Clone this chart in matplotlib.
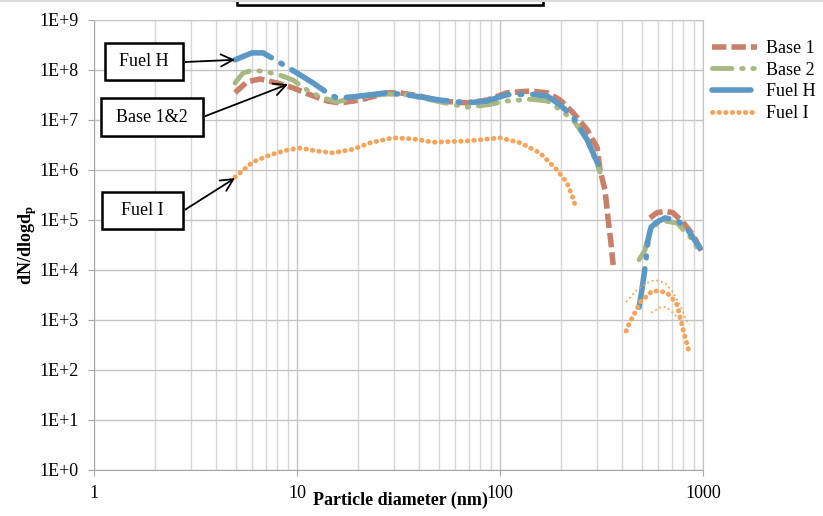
import numpy as np
import matplotlib
matplotlib.use("Agg")
import matplotlib.pyplot as plt
from matplotlib.patches import Rectangle
from matplotlib.ticker import FixedLocator, FuncFormatter, NullFormatter

plt.rcParams['font.family'] = ['Liberation Serif', 'DejaVu Serif']
plt.rcParams['mathtext.fontset'] = 'custom'
plt.rcParams['mathtext.rm'] = 'Liberation Serif'
plt.rcParams['mathtext.bf'] = 'Liberation Serif:bold'

# ---- data (diameter in nm, dN/dlogdp) ----
base1_d = [4.95, 5.68, 6.58, 7.96, 9.55, 11.6, 14.1, 16.3, 20.4, 27.7, 32.1, 40.4, 50.6, 68.7,
           86.3, 108, 141, 171, 198, 229, 269, 301, 311, 329, 340, 352, 361]
base1_n = [3.5e7, 5.8e7, 6.6e7, 5.5e7, 4.4e7, 3.2e7, 2.4e7, 2.2e7, 2.5e7, 3.5e7, 3.5e7, 3.0e7, 2.4e7, 2.2e7,
           2.5e7, 3.5e7, 3.8e7, 3.5e7, 2.5e7, 1.4e7, 6.3e6, 2.8e6, 1.0e6, 4.0e5, 1.15e5, 3.5e4, 1.26e4]
base1_d2 = [548, 593, 650, 711, 796, 893, 989]
base1_n2 = [1.1e5, 1.4e5, 1.5e5, 1.4e5, 9.1e4, 5.0e4, 2.3e4]

base2_d = [4.95, 5.42, 6.07, 7.11, 8.24, 9.55, 11.2, 13.0, 15.7, 18.9, 27.7, 34.7, 50.6, 68.7,
           86.3, 108, 141, 171, 198, 229, 269, 311]
base2_n = [5.5e7, 8.7e7, 1.0e8, 9.1e7, 7.9e7, 6.3e7, 4.0e7, 2.9e7, 2.3e7, 2.75e7, 3.3e7, 3.2e7, 2.3e7, 1.8e7,
           2.0e7, 2.4e7, 2.6e7, 2.4e7, 1.6e7, 1.0e7, 4.0e6, 9.1e5]
base2_d2 = [484, 518, 530, 548, 600, 650, 745, 863, 989]
base2_n2 = [1.6e4, 2.5e4, 4.0e4, 6.3e4, 8.7e4, 9.5e4, 8.7e4, 4.6e4, 2.0e4]

fuelh_d = [4.95, 6.0, 6.81, 7.8, 8.93, 10.4, 12.0, 14.1, 15.7, 18.9, 27.7, 34.7, 50.6, 68.7,
           86.3, 108, 141, 171, 198, 229, 269, 318]
fuelh_n = [1.6e8, 2.2e8, 2.2e8, 1.6e8, 1.15e8, 7.9e7, 5.5e7, 3.5e7, 2.75e7, 2.9e7, 3.5e7, 3.2e7, 2.5e7, 2.2e7,
           2.4e7, 3.2e7, 3.3e7, 3.0e7, 2.0e7, 1.15e7, 4.0e6, 8.7e5]
fuelh_d2 = [484, 500, 512, 524, 536, 555, 593, 650, 745, 843, 966]
fuelh_n2 = [1.8e3, 4.0e3, 7.9e3, 1.6e4, 4.0e4, 7.2e4, 9.1e4, 1.1e5, 1.0e5, 6.3e4, 2.75e4]

fueli_d = [4.95, 6.07, 7.36, 8.93, 10.4, 12.5, 15.0, 18.9, 22.9, 29.7, 37.2, 46.8, 68.7, 100,
           126, 157, 191, 214, 229, 234]
fueli_n = [7.2e5, 1.45e6, 2.0e6, 2.5e6, 2.75e6, 2.4e6, 2.2e6, 2.6e6, 3.5e6, 4.4e6, 4.2e6, 3.6e6, 3.8e6, 4.4e6,
           3.5e6, 2.2e6, 1.0e6, 5.5e5, 2.75e5, 2.0e5]
fueli_d2 = [418, 432, 452, 473, 490, 524, 561, 607, 665, 711, 745, 762, 780, 796, 815, 834, 853]
fueli_n2 = [600, 830, 1.2e3, 1.66e3, 2.3e3, 2.9e3, 3.8e3, 3.8e3, 3.5e3, 2.6e3, 2.0e3, 1.4e3, 955, 660, 457, 331, 229]
fueli_up_d = [418, 473, 530, 581, 650, 711, 771, 815, 853]
fueli_up_n = [2.3e3, 4.0e3, 5.5e3, 6.3e3, 5.5e3, 3.6e3, 2.0e3, 1.15e3, 794]
fueli_lo_d = [555, 600, 635, 687, 745, 789]
fueli_lo_n = [1.4e3, 1.66e3, 1.9e3, 1.6e3, 1.15e3, 912]

W, H = 823, 516

def fx(px):
    return px / W

def fy(py):
    # py measured from the top of the picture
    return 1 - py / H

fig = plt.figure(figsize=(W / 100, H / 100), dpi=100)
ax = fig.add_axes([fx(94), fy(470), fx(703) - fx(94), fy(20) - fy(470)])

c_b1 = '#C9806B'
c_b2 = '#A8B882'
c_fh = '#5B98C5'
c_fi = '#F5A45B'

sty_b1 = dict(color=c_b1, lw=4, dashes=(2.6, 0.9), dash_capstyle='butt')
sty_b2 = dict(color=c_b2, lw=3.5, dashes=(4, 2, 0.3, 2, 0.3, 2), dash_capstyle='round')
sty_fh = dict(color=c_fh, lw=4, dashes=(7, 2, 0.3, 2), dash_capstyle='round')
sty_fi = dict(color=c_fi, lw=3.5, dashes=(0.1, 1.25), dash_capstyle='round')

ax.plot(base1_d, base1_n, label='Base 1', **sty_b1)
ax.plot(base1_d2, base1_n2, **sty_b1)
ax.plot(base2_d, base2_n, label='Base 2', **sty_b2)
ax.plot(base2_d2, base2_n2, **sty_b2)
ax.plot(fuelh_d, fuelh_n, label='Fuel H', **sty_fh)
ax.plot(fuelh_d2, fuelh_n2, **sty_fh)
ax.plot(fueli_d, fueli_n, label='Fuel I', **sty_fi)
ax.plot(fueli_d2, fueli_n2, **sty_fi)
ax.plot(fueli_up_d, fueli_up_n, color=c_fi, lw=1.3, linestyle=':')
ax.plot(fueli_lo_d, fueli_lo_n, color=c_fi, lw=1.3, linestyle=':')

ax.set_xscale('log')
ax.set_yscale('log')
ax.set_xlim(1, 1000)
ax.set_ylim(1, 1e9)

ax.yaxis.set_major_locator(FixedLocator([10.0 ** k for k in range(10)]))
ax.yaxis.set_major_formatter(FuncFormatter(lambda v, p: "1E+%d" % round(np.log10(v))))
ax.yaxis.set_minor_formatter(NullFormatter())
ax.yaxis.set_minor_locator(FixedLocator([]))
ax.xaxis.set_major_locator(FixedLocator([1, 10, 100, 1000]))
ax.xaxis.set_major_formatter(FuncFormatter(lambda v, p: "%d" % round(v)))
ax.xaxis.set_minor_formatter(NullFormatter())

ax.grid(True, which='major', color='#c4c4c4', lw=1)
ax.grid(True, which='minor', axis='x', color='#d6d6d6', lw=1)
ax.set_axisbelow(True)
for s in ax.spines.values():
    s.set_color('#c4c4c4')
ax.spines['left'].set_color('#a6a6a6')
ax.spines['bottom'].set_color('#a6a6a6')
ax.tick_params(which='major', length=4, color='#a6a6a6', labelsize=13, pad=7)
ax.tick_params(which='minor', length=0)

fig.text(fx(400), fy(500), 'Particle diameter (nm)', fontsize=13, fontweight='bold',
         ha='center', va='center')
fig.text(fx(28), fy(245), r'$\mathbf{dN/dlogd_p}$', fontsize=13, rotation=90,
         ha='center', va='center')

fig.legend(loc='upper left', bbox_to_anchor=(fx(712), fy(40)), frameon=False,
           fontsize=13, handlelength=2.5, handletextpad=0.5, labelspacing=0.26,
           borderpad=0, borderaxespad=0)

# label boxes with arrows
boxes = [('Fuel H', 105, 43, 183, 80, (185, 62), (4.95, 1.6e8)),
         ('Base 1&2', 101, 98, 203, 136, (203, 117), (9.03, 5.2e7)),
         ('Fuel I', 102, 192, 183, 229, (183, 211), (4.95, 6.9e5))]
for txt, x0, y0, x1, y1, tail, head in boxes:
    fig.add_artist(Rectangle((fx(x0) + 0.002, fy(y1) - 0.003), fx(x1 - x0), fy(y0) - fy(y1),
                             transform=fig.transFigure, facecolor='#bdbdbd', edgecolor='none'))
    fig.add_artist(Rectangle((fx(x0), fy(y1)), fx(x1 - x0), fy(y0) - fy(y1),
                             transform=fig.transFigure, facecolor='white', edgecolor='black', lw=1.8))
    fig.text(fx((x0 + x1) / 2), fy((y0 + y1) / 2), txt, fontsize=13, ha='center', va='center')
    ax.annotate('', xy=head, xycoords='data', xytext=(fx(tail[0]), fy(tail[1])),
                textcoords='figure fraction',
                arrowprops=dict(arrowstyle='->', lw=1.3, color='black', mutation_scale=22,
                                shrinkA=0, shrinkB=0))

# title box cut off at the top edge
fig.add_artist(Rectangle((fx(239), fy(7)), fx(306), fy(-20) - fy(7), transform=fig.transFigure,
                         facecolor='#bdbdbd', edgecolor='none'))
fig.add_artist(Rectangle((fx(237), fy(5)), fx(306), fy(-20) - fy(5), transform=fig.transFigure,
                         facecolor='white', edgecolor='black', lw=1.8))
fig.add_artist(Rectangle((0, fy(2)), 1, fy(0) - fy(2), transform=fig.transFigure,
                         facecolor='#d9d9d9', edgecolor='none'))

fig.savefig('out.png', dpi=100)
